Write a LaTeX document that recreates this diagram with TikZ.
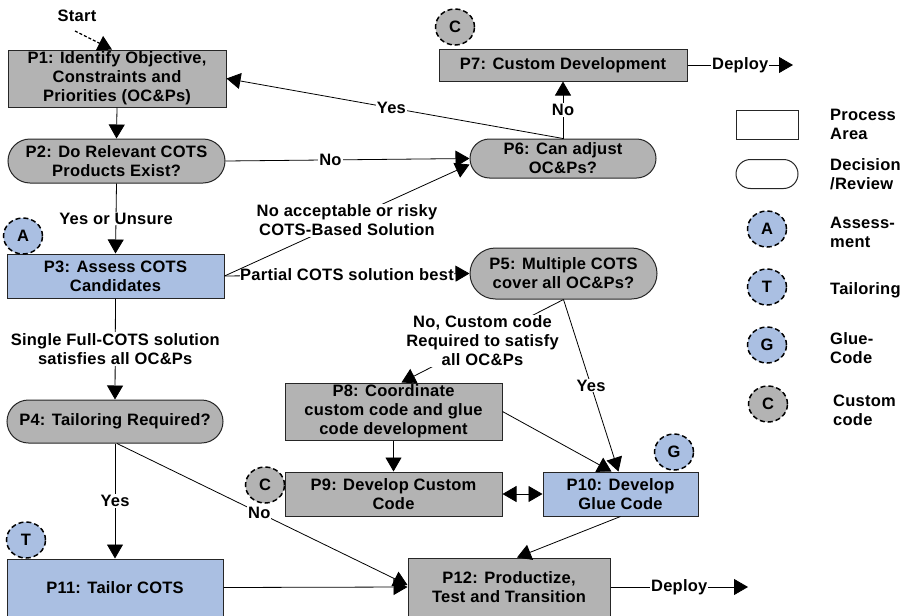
\documentclass[tikz,border=0pt]{standalone}
\usepackage{fontspec}
\setmainfont{Liberation Sans}[LetterSpace=1.5]
\usetikzlibrary{arrows.meta,shapes.misc,shapes.geometric}
\definecolor{boxgray}{RGB}{179,179,179}
\definecolor{boxblue}{RGB}{170,191,226}
\tikzset{
  bigtip/.tip={Triangle[length=14pt,width=16pt]},
  lbl/.style={font=\bfseries\fontsize{16.5}{19}\selectfont},
  procbox/.style={lbl, rectangle, draw=black!85, line width=1pt, align=center, inner sep=0pt},
  decbox/.style={lbl, rounded rectangle, draw=black!85, line width=1pt, align=center, inner sep=0pt},
  badge/.style={lbl, ellipse, draw=black, line width=1.5pt, dash pattern=on 5pt off 3pt,
                minimum width=39pt, minimum height=36pt, inner sep=0pt},
  conn/.style={line width=0.8pt, -bigtip},
  elab/.style={lbl, fill=white, inner sep=1pt, align=center},
  legtext/.style={lbl, anchor=west, align=left, inner sep=0pt}
}
\begin{document}
\begin{tikzpicture}[x=1pt,y=-1pt]
\useasboundingbox (0,0) rectangle (908,616);

% process areas and decisions
\node[procbox, fill=boxgray, minimum width=218, minimum height=57] (P1) at (117,78.5)
  {P1: Identify Objective,\\Constraints and\\Priorities (OC\&Ps)};
\node[decbox, fill=boxgray, minimum width=217, minimum height=44] (P2) at (116.5,161)
  {P2: Do Relevant COTS\\Products Exist?};
\node[procbox, fill=boxblue, minimum width=217, minimum height=44] (P3) at (115.5,276)
  {P3: Assess COTS\\Candidates};
\node[decbox, fill=boxgray, minimum width=216, minimum height=43] (P4) at (115,421.5)
  {P4: Tailoring Required?};
\node[decbox, fill=boxgray, minimum width=187, minimum height=51] (P5) at (563.5,273.5)
  {P5: Multiple COTS\\cover all OC\&Ps?};
\node[decbox, fill=boxgray, minimum width=186, minimum height=39] (P6) at (563,158.5)
  {P6: Can adjust\\OC\&Ps?};
\node[procbox, fill=boxgray, minimum width=248, minimum height=32] (P7) at (563,65)
  {P7: Custom Development};
\node[procbox, fill=boxgray, minimum width=217, minimum height=57] (P8) at (393.5,411.5)
  {P8: Coordinate\\custom code and glue\\code development};
\node[procbox, fill=boxgray, minimum width=217, minimum height=44] (P9) at (393.5,494)
  {P9: Develop Custom\\Code};
\node[procbox, fill=boxblue, minimum width=155, minimum height=44] (P10) at (620.5,494)
  {P10: Develop\\Glue Code};
\node[procbox, fill=boxblue, minimum width=216, minimum height=57] (P11) at (115,587.5)
  {P11: Tailor COTS};
\node[procbox, fill=boxgray, minimum width=202, minimum height=58] (P12) at (509,587)
  {P12: Productize,\\Test and Transition};

% activity badges
\node[badge, fill=boxblue] (bA) at (23,236) {A};
\node[badge, fill=boxblue] (bT) at (26,540) {T};
\node[badge, fill=boxgray] (bC1) at (455,27) {C};
\node[badge, fill=boxgray] (bC2) at (265,485) {C};
\node[badge, fill=boxblue] (bG) at (674,452) {G};

% start
\node[lbl] (start) at (77,16) {Start};
\coordinate (startfoot) at (75,31);
\draw[conn, line width=1.3pt, dash pattern=on 3pt off 2pt] (startfoot) -- ([xshift=-5pt]P1.north);

% connectors
\draw[conn] (P1.south) -- (P2.north);
\draw[conn] (P2.east) -- node[elab, pos=0.43]{No} (P6.west);
\draw[conn] (P6.north) -- node[elab, pos=0.51]{Yes} (P1.east);
\draw[conn] (P6.north) -- node[elab]{No} (P7.south);
\coordinate (dep1) at (793,65);
\draw[conn] (P7.east) -- node[elab]{Deploy} (dep1);
\draw[conn] (P2.south) -- node[elab]{Yes or Unsure} (P3.north);
\draw[conn] (P3.east) -- node[elab, inner sep=0.5pt]{Partial COTS solution best} (P5.west);
\draw[conn] (P3.east) -- node[elab]{No acceptable or risky\\COTS-Based Solution} ([yshift=-6pt]P6.west);
\draw[conn] (P5.south) -- node[elab]{No, Custom code\\Required to satisfy\\all OC\&Ps} ([xshift=8pt]P8.north);
\draw[conn] (P5.south) -- node[elab]{Yes} ([xshift=-2pt]P10.north);
\draw[conn] (P8.east) -- ([xshift=-9pt]P10.north);
\draw[conn] (P8.south) -- (P9.north);
\draw[line width=0.8pt, bigtip-bigtip] (P9.east) -- (P10.west);
\draw[conn] (P10.south) -- ([xshift=8pt]P12.north);
\coordinate (dep2) at (748,587);
\draw[conn] (P12.east) -- node[elab]{Deploy} (dep2);
\draw[conn] (P3.south) -- node[elab]{Single Full-COTS solution\\satisfies all OC\&Ps} (P4.north);
\draw[conn] (P4.south) -- node[elab]{Yes} (P11.north);
\draw[conn] ([xshift=2pt]P4.south) -- node[elab, pos=0.49]{No} ([yshift=2pt]P12.west);
\draw[conn] (P11.east) -- (P12.west);

% legend
\node[procbox, fill=white, minimum width=62, minimum height=29] (legP) at (767,124.5) {};
\node[decbox, fill=white, minimum width=62, minimum height=29] (legD) at (767,174) {};
\node[badge, fill=boxblue] (legA) at (767,229) {A};
\node[badge, fill=boxblue] (legT) at (767,287) {T};
\node[badge, fill=boxblue] (legG) at (767,345) {G};
\node[badge, fill=boxgray] (legC) at (768,404) {C};
\node[legtext] (tP) at (830,124) {Process\\Area};
\node[legtext] (tD) at (830,174) {Decision\\/Review};
\node[legtext] (tA) at (830,232) {Assess-\\ment};
\node[legtext] (tT) at (830,290) {Tailoring};
\node[legtext] (tG) at (830,348) {Glue-\\Code};
\node[legtext] (tC) at (833,410) {Custom\\code};
\end{tikzpicture}
\end{document}
